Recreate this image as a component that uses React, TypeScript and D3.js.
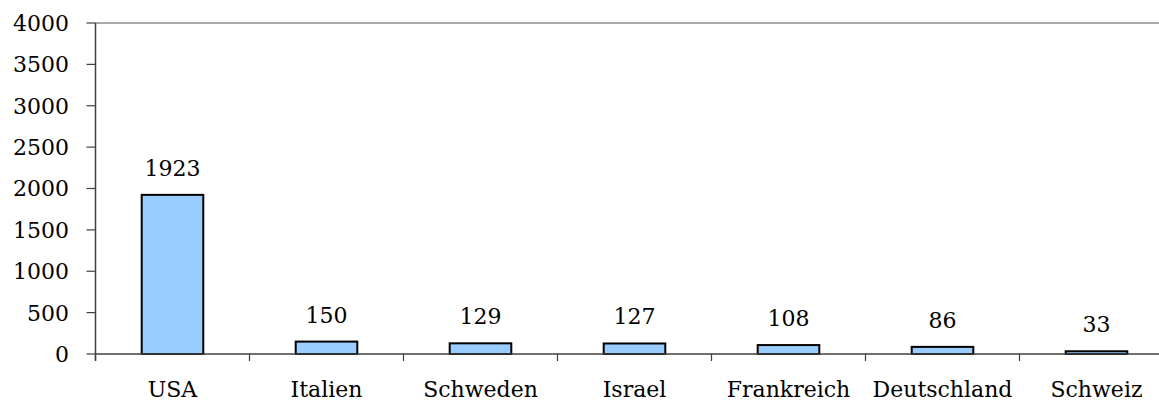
import React from "react";
import * as d3 from "d3";

const categories = ["USA", "Italien", "Schweden", "Israel", "Frankreich", "Deutschland", "Schweiz"];
const values = [1923, 150, 129, 127, 108, 86, 33];
const yTicks = [0, 500, 1000, 1500, 2000, 2500, 3000, 3500, 4000];

const W = 1159;
const H = 401;
const left = 95.5;
const step = 154;
const top = 23;
const bottom = 354;
const font = "'DejaVu Serif', serif";

export default function App() {
  const x = d3
    .scaleBand<string>()
    .domain(categories)
    .range([left, left + step * categories.length])
    .paddingInner(0.6)
    .paddingOuter(0.3);
  const y = d3.scaleLinear().domain([0, 4000]).range([bottom, top]);
  const right = left + step * categories.length;

  return (
    <svg width={W} height={H} style={{ position: "absolute", left: 0, top: 0, background: "#fff" }}>
      <line x1={left} x2={right} y1={y(4000)} y2={y(4000)} stroke="#8c8c8c" strokeWidth={1.5} />
      <line x1={left} x2={left} y1={y(4000)} y2={bottom + 7} stroke="#404040" strokeWidth={1.5} />
      {yTicks.map((t) => (
        <g key={t}>
          <line x1={left - 9} x2={left} y1={y(t)} y2={y(t)} stroke="#404040" strokeWidth={1.2} />
          <text x={69} y={y(t)} dy="0.36em" textAnchor="end" fontFamily={font} fontSize={22} fill="#000">
            {t}
          </text>
        </g>
      ))}
      {categories.map((c, i) => (
        <line key={c} x1={left + i * step} x2={left + i * step} y1={bottom} y2={bottom + 7} stroke="#404040" strokeWidth={1.2} />
      ))}
      {categories.map((c, i) => (
        <rect
          key={c}
          x={x(c)!}
          y={y(values[i])}
          width={x.bandwidth()}
          height={bottom - y(values[i])}
          fill="#99ccff"
          stroke="#000"
          strokeWidth={2}
        />
      ))}
      <line x1={left} x2={right} y1={bottom} y2={bottom} stroke="#404040" strokeWidth={1.5} />
      {categories.map((c, i) => (
        <text
          key={c}
          x={x(c)! + x.bandwidth() / 2}
          y={y(values[i]) - 19}
          textAnchor="middle"
          fontFamily={font}
          fontSize={22}
          fill="#000"
        >
          {values[i]}
        </text>
      ))}
      {categories.map((c) => (
        <text
          key={c}
          x={x(c)! + x.bandwidth() / 2}
          y={397}
          textAnchor="middle"
          fontFamily={font}
          fontSize={22}
          fill="#000"
        >
          {c}
        </text>
      ))}
    </svg>
  );
}
